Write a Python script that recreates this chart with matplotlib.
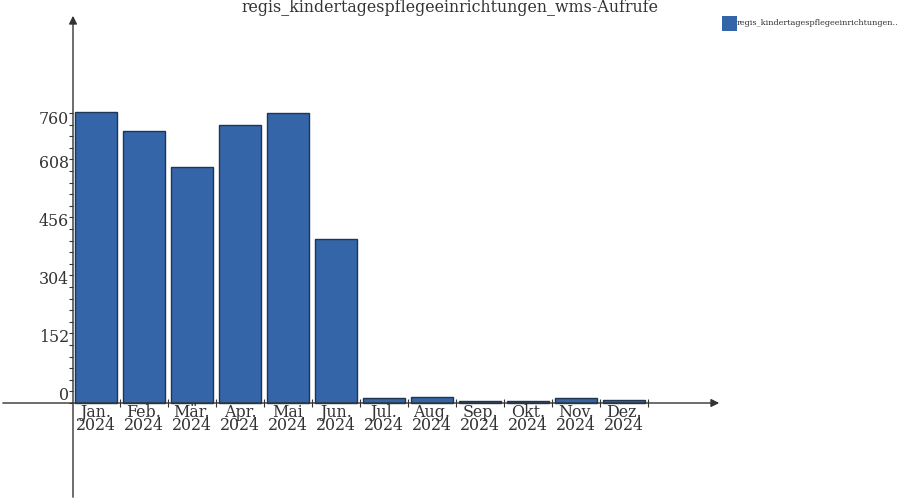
import matplotlib
matplotlib.use("Agg")
import matplotlib.pyplot as plt
import matplotlib.transforms as mtransforms
import numpy as np

title = "regis_kindertagespflegeeinrichtungen_wms-Aufrufe"
legend_label = "regis_kindertagespflegeeinrichtungen.."
months = ["Jan.", "Feb.", "Mär.", "Apr.", "Mai", "Jun.", "Jul.", "Aug.", "Sep.", "Okt.", "Nov.", "Dez."]
year = "2024"
values = [762, 713, 618, 728, 760, 430, 13, 16, 5, 5, 13, 8]
y_ticks = [0, 152, 304, 456, 608, 760]

BAR = "#3465a8"
EDGE = "#1e3553"
AX = "#333333"
TXT = "#333333"
FS = 11.4

plt.rcParams['font.family'] = ['DejaVu Serif']

W, H = 900, 500
fig = plt.figure(figsize=(W / 100, H / 100), dpi=100)
ax = fig.add_axes([0, 0, 1, 1])

# pixel geometry
x0_px, cat_px = 72, 48.0
y0_px, unit_px = 403, 58.0 / 152.0
ax.set_xlim(-x0_px / cat_px, (W - x0_px) / cat_px)
ax.set_ylim(-(H - y0_px) / unit_px, y0_px / unit_px)

n = len(values)
xs = np.arange(n) + 0.5
ax.bar(xs, values, width=0.885, color=BAR, edgecolor=EDGE, linewidth=1.0, zorder=2)

for s in ax.spines.values():
    s.set_visible(False)

# axis lines with arrows (axes fraction coords)
yax_x = 73 / W
xax_y = 1 - y0_px / H
ax.annotate("", xy=(yax_x, 1 - 13 / H), xytext=(yax_x, 0), xycoords="axes fraction",
            arrowprops=dict(arrowstyle="-|>", color=AX, lw=1.0, mutation_scale=12), zorder=5)
ax.annotate("", xy=(722 / W, xax_y), xytext=(0, xax_y), xycoords="axes fraction",
            arrowprops=dict(arrowstyle="-|>", color=AX, lw=1.0, mutation_scale=12), zorder=5)

# x ticks at category boundaries
ax.set_xticks(np.arange(1, n + 1))
ax.set_xticklabels([])
ax.tick_params(axis="x", direction="inout", length=6, width=0.8, color=AX)
ax.xaxis.set_ticks_position("bottom")
ax.spines["bottom"].set_position(("data", 0))
for i, m in enumerate(months):
    ax.text(xs[i], -2.0, f"{m}\n{year}", ha="center", va="top", fontsize=FS,
            color=TXT, linespacing=0.74)

# y ticks
ax.spines["left"].set_position(("data", 1 / cat_px))
ax.yaxis.set_ticks_position("left")
ax.set_yticks(y_ticks)
ax.set_yticks(np.arange(0, 761, 30.4), minor=True)
ax.tick_params(axis="y", which="major", direction="out", length=3, width=0.8, color=AX,
               labelsize=FS, labelcolor=TXT, pad=0)
ax.tick_params(axis="y", which="minor", direction="out", length=3, width=0.8, color=AX)
ax.set_yticklabels([str(t) for t in y_ticks])
for i, lab in enumerate(ax.get_yticklabels()):
    dy = 9 if y_ticks[i] != y_ticks[-1] else -5
    lab.set_transform(lab.get_transform() + mtransforms.ScaledTranslation(0, dy / 100, fig.dpi_scale_trans))

# title
fig.text(450 / W, 1 - 8 / H, title, ha="center", va="center", fontsize=FS, color=TXT)

# legend
fig.patches.append(plt.Rectangle((722 / W, 1 - 31 / H), 15 / W, 15 / H, transform=fig.transFigure,
                                 facecolor=BAR, edgecolor="none"))
fig.text(737 / W, 1 - 23 / H, legend_label, ha="left", va="center", fontsize=5.85, color=TXT)

fig.savefig("out.png", dpi=100)
